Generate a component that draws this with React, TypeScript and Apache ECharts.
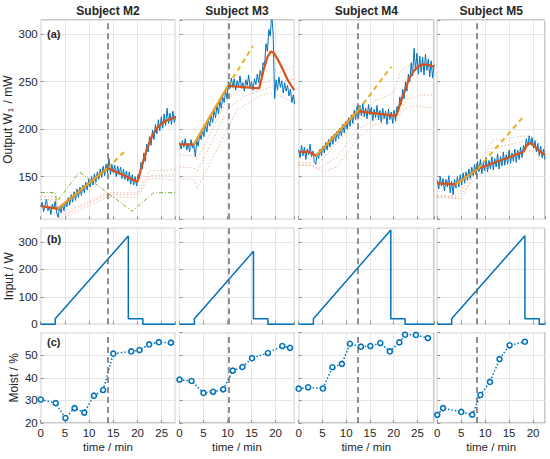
import React, { useEffect, useRef } from "react";
import * as echarts from "echarts";

// ---------- data ----------
const subjects = ["Subject M2", "Subject M3", "Subject M4", "Subject M5"];
const timeMax = [27.8, 23.9, 28.5, 22.5];
const markerTimes = [13.8, 10.2, 12.4, 8.2];
const panelTags = ["(a)", "(b)", "(c)"];

// measured output W1 (mW), sampled every 0.3 min
const sampleStep = 0.3;
const outputM2 = [118,123,113,120,126,114,119,110,121,116,124,112,
  107,118,112,
  121,114,124,118,128,120,131,123,134,125,137,128,139,130,141,133,144,136,147,139,150,141,153,144,155,147,158,149,161,151,163,154,
  169,152,163,154,162,150,161,152,160,148,158,147,156,145,155,142,152,141,150,140,
  152,148,165,158,175,166,184,176,192,183,199,189,205,195,210,198,213,201,216,204,222,206,217,205,219,207,214];
const outputM3 = [186,179,188,181,190,178,185,176,189,180,183,171,
  188,182,195,189,199,192,205,197,210,203,214,207,220,212,225,216,230,222,234,228,240,232,
  250,243,254,244,253,241,251,245,256,243,249,240,252,246,257,244,250,241,253,247,258,249,
  262,254,270,266,290,282,305,298,322,300,
  232,252,241,255,244,251,238,249,240,246,235,242,228,236,226];
const outputM4 = [178,170,183,172,181,168,179,173,184,171,177,166,163,
  175,169,179,172,182,175,186,178,189,181,192,184,195,187,198,190,201,193,205,196,208,200,212,203,215,206,220,210,224,
  212,225,214,227,213,222,211,226,215,223,209,221,212,225,210,220,207,222,211,219,205,221,210,218,206,220,209,
  224,218,234,226,242,232,250,240,258,250,270,256,285,262,280,258,277,260,276,257,279,262,274,255,272,254,268];
const outputM5 = [146,137,150,140,148,135,147,139,151,133,145,131,147,
  138,150,139,152,141,154,143,155,146,158,148,160,151,163,152,166,
  155,168,153,165,156,170,155,167,158,171,157,169,160,174,158,171,161,176,162,173,163,178,164,175,166,179,165,178,168,181,170,183,
  178,190,182,193,184,191,180,188,176,185,172,182,170,179,168];
const outputs = [outputM2, outputM3, outputM4, outputM5];

// model fit (orange)
const fitT = [
  [0, 3.5, 13.8, 20, 21, 22, 23, 24, 25, 26, 27, 27.8],
  [0, 3, 10.1, 16.6, 17.5, 18.3, 19, 19.7, 20.5, 21.5, 22.5, 23.9],
  [0, 2.2, 3.65, 12.4, 20.5, 21.5, 22.5, 23.3, 24.2, 25.2, 26.2, 27.4, 28.5],
  [0, 3.8, 8.4, 18, 18.7, 19.5, 20.3, 21.3, 22.5],
];
const fitV = [
  [119, 116, 159, 144.5, 163, 180, 193, 201, 206, 209, 211, 212.5],
  [184, 184, 245.5, 243, 262, 276, 281.7, 280, 273, 263, 252, 241],
  [176, 176, 172, 219, 214, 228, 243, 253.6, 261, 266, 268.4, 267.5, 265.8],
  [142.8, 141.7, 157.9, 176.2, 183, 185.7, 182, 177, 172.7],
];

// linear trend (yellow): fitted part and extrapolated part
const trendT = [[3.5, 13.8], [3, 10.1], [3.65, 12.4], [3.8, 8.4]];
const trendV = [[116, 159], [184, 245.5], [172, 219], [141.7, 157.9]];
const extrapT = [[13.8, 17.8], [10.1, 15.3], [12.4, 19.5], [8.4, 18.3]];
const extrapV = [[159, 179], [245.5, 287.6], [219, 265.8], [157.9, 214.9]];

// dotted bounds (light red), three per subject
const boundT = [
  [[0,3,3.6,5,9,13.8,20,22.5,27.8],[0,3,3.6,5,9,13.8,20,22.5,27.8],[3.6,5,9,13.8,20,22.5,25,27.8]],
  [[0,3,3.7,10.1,14,18.4,21,23.9],[0,3,3.7,10.1,14,18.4,21,23.9],[0,3,3.7,10.1,12,16,18.4,21,23.9]],
  [[0,3,4,12.4,16,20,21.5,24,28.5],[0,3,4,8,12.4,16,20.5,23,26,28.5],[0,3,5,8,12.4,16,20.5,22,24,28.5]],
  [[0,3.5,5,8.4,11.5,18,20,22.5],[0,4,8.4,11.5,18,22.5],[0,4,8.4,11.5,18,20,22.5]],
];
const boundV = [
  [[129,129,115,113,122,133,133,156,157],[126,126,112,110,120,131,131,151,152],[108,107,117,128.5,128,148,148,146]],
  [[173,172,168,233,245,250,260,266],[160,159,155,222,236,243,250,253],[148,147,137,202,220,233,238,235,228]],
  [[165,165,163,210,230,238,262,268,266],[163,162,158,170,200,210,212,232,236,236],[162,161,155,160,190,205,208,220,225,222]],
  [[129,128,126,160,188,193,192,180],[130,130,158,180,187,176],[128,127,150,170,180,176,168]],
];

// reference curve (green, M2 only)
const refT = [0, 3, 3.3, 8, 18.9, 23.3, 27.8];
const refV = [133.3, 133.3, 123, 155, 113.5, 133, 133];

// input power (W)
const inputT = [
  [0, 3, 3, 18.1, 18.1, 21.1, 21.1, 27.8],
  [0, 3.1, 3.1, 15.4, 15.4, 18.4, 18.4, 23.9],
  [0, 3.1, 3.1, 19.4, 19.4, 22.4, 22.4, 28.5],
  [0, 3, 3, 18.3, 18.3, 21.3, 21.3, 22.5],
];
const inputV = [
  [0, 0, 20, 322, 20, 20, 0, 0],
  [0, 0, 20, 266, 20, 20, 0, 0],
  [0, 0, 20, 344, 20, 20, 0, 0],
  [0, 0, 20, 323, 20, 20, 0, 0],
];

// moisture (%)
const moistT = [
  [0, 3.1, 5.1, 7.0, 9.0, 11.0, 12.9, 15.0, 18.7, 20.4, 22.4, 24.4, 26.9],
  [0, 2.5, 5.0, 7.0, 9.1, 11.1, 13.1, 15.1, 18.4, 21.4, 23.0],
  [0, 2.0, 5.1, 7.1, 9.1, 10.8, 13.1, 15.1, 17.2, 19.2, 21.2, 22.4, 24.7, 27.2],
  [0, 1.2, 5.0, 7.3, 9.0, 11.0, 13.0, 15.1, 18.3],
];
const moistV = [
  [30.4, 28.8, 22.2, 26.6, 24.6, 32.1, 34.6, 50.7, 51.7, 52.3, 54.8, 55.8, 55.6],
  [39.2, 38.6, 33.3, 33.8, 34.9, 43.2, 44.8, 48.7, 51.0, 54.1, 53.3],
  [35.2, 35.8, 35.3, 44.7, 46.2, 55.1, 53.8, 54.1, 55.4, 51.7, 55.7, 59.1, 59.0, 57.6],
  [23.6, 26.6, 24.9, 23.7, 32.4, 38.2, 48.3, 54.4, 56.0],
];

// ---------- layout / style ----------
const FONT = "'Liberation Sans', Arial, Helvetica, sans-serif";
const TXT = "#262626";
const BORDER = "#8f8f8f";
const GRIDC = "#e6e6e6";
const BLUE = "#0072BD";
const ORANGE = "#D95319";
const YELLOW = "#EDB120";
const GREEN = "#77AC30";
const colLeft = [40.7, 179.5, 298.7, 437.3];
const colRight = [175.3, 294.3, 434, 545];
const rowTop = [20, 228.3, 332.7];
const rowBottom = [219.3, 324.3, 423];

const pairs = (t: number[], v: number[]) => t.map((x, i) => [x, v[i]]);

function buildOption() {
  const grid: any[] = [];
  const xAxis: any[] = [];
  const yAxis: any[] = [];
  const series: any[] = [];
  const graphic: any[] = [];

  const yCfg = [
    { min: 105, max: 315, minInterval: 50, maxInterval: 50, name: "Output W{s|1} / mW" },
    { min: 0, max: 350, interval: 100, name: "Input / W" },
    { min: 20, max: 60, interval: 10, name: "Moist / %" },
  ];

  for (let r = 0; r < 3; r++) {
    for (let c = 0; c < 4; c++) {
      const idx = r * 4 + c;
      grid.push({
        left: colLeft[c], top: rowTop[r],
        width: colRight[c] - colLeft[c], height: rowBottom[r] - rowTop[r],
        show: true, borderColor: BORDER, borderWidth: 1, backgroundColor: "transparent",
      });
      xAxis.push({
        gridIndex: idx, type: "value", min: 0, max: timeMax[c], interval: 5,
        axisLine: { show: false },
        axisTick: { show: true, inside: true, length: 3, lineStyle: { color: BORDER } },
        axisLabel: { show: r === 2, margin: 4, fontSize: 11.5, color: TXT, fontFamily: FONT, showMaxLabel: false },
        splitLine: { show: true, lineStyle: { color: GRIDC, width: 1 } },
        name: r === 2 ? "time / min" : "",
        nameLocation: "middle", nameGap: 18,
        nameTextStyle: { fontSize: 11.5, color: TXT, fontFamily: FONT },
      });
      const yc: any = yCfg[r];
      yAxis.push({
        gridIndex: idx, type: "value", min: yc.min, max: yc.max,
        interval: yc.interval, minInterval: yc.minInterval, maxInterval: yc.maxInterval,
        axisLine: { show: false },
        axisTick: { show: true, inside: true, length: 3, lineStyle: { color: BORDER } },
        axisLabel: { show: c === 0, margin: 3, fontSize: 11.5, color: TXT, fontFamily: FONT, showMinLabel: r !== 0, showMaxLabel: false },
        splitLine: { show: true, lineStyle: { color: GRIDC, width: 1 } },
        name: c === 0 ? yc.name : "",
        nameLocation: "middle", nameGap: 21,
        nameTextStyle: {
          fontSize: 12, color: TXT, fontFamily: FONT,
          rich: { s: { fontSize: 8, color: TXT, fontFamily: FONT, verticalAlign: "bottom", padding: [6, 1, 0, 1] } },
        },
      });
    }
  }

  const markLine = (c: number) => ({
    silent: true, symbol: ["none", "none"], label: { show: false },
    lineStyle: { color: "#6b6b6b", width: 1.5, type: [6, 4] },
    data: [{ xAxis: markerTimes[c] }],
  });
  const base = { type: "line", showSymbol: false, symbol: "none", silent: true, animation: false };

  for (let c = 0; c < 4; c++) {
    // top row
    for (let k = 0; k < boundT[c].length; k++) {
      series.push({ ...base, xAxisIndex: c, yAxisIndex: c, data: pairs(boundT[c][k], boundV[c][k]),
        lineStyle: { color: ORANGE, opacity: 0.5, width: 0.8, type: [1.5, 2] } });
    }
    if (c === 0) {
      series.push({ ...base, xAxisIndex: c, yAxisIndex: c, data: pairs(refT, refV),
        lineStyle: { color: GREEN, width: 1, type: [4, 2, 1, 2] } });
    }
    series.push({ ...base, xAxisIndex: c, yAxisIndex: c,
      data: outputs[c].map((v, i) => [Math.round(i * sampleStep * 10) / 10, v]),
      lineStyle: { color: BLUE, width: 1 } });
    series.push({ ...base, xAxisIndex: c, yAxisIndex: c, data: pairs(fitT[c], fitV[c]),
      lineStyle: { color: ORANGE, width: 2.2 } });
    series.push({ ...base, xAxisIndex: c, yAxisIndex: c, data: pairs(trendT[c], trendV[c]),
      lineStyle: { color: YELLOW, width: 1.6 } });
    series.push({ ...base, xAxisIndex: c, yAxisIndex: c, data: pairs(extrapT[c], extrapV[c]),
      lineStyle: { color: YELLOW, width: 2, type: [5, 4] }, markLine: markLine(c) });
    // middle row
    series.push({ ...base, xAxisIndex: 4 + c, yAxisIndex: 4 + c, data: pairs(inputT[c], inputV[c]),
      lineStyle: { color: BLUE, width: 1.5 }, markLine: markLine(c) });
    // bottom row
    series.push({ ...base, xAxisIndex: 8 + c, yAxisIndex: 8 + c, data: pairs(moistT[c], moistV[c]),
      showSymbol: true, symbol: "circle", symbolSize: 5,
      itemStyle: { color: "#ffffff", borderColor: BLUE, borderWidth: 1.6 },
      lineStyle: { color: BLUE, width: 1.5, type: [1.5, 2] }, markLine: markLine(c) });

    graphic.push({
      type: "text", x: (colLeft[c] + colRight[c]) / 2, y: 11,
      style: { text: subjects[c], font: `bold 12px ${FONT}`, fill: TXT, align: "center", verticalAlign: "middle" },
    });
  }
  const tagY = [34, 239, 342];
  for (let r = 0; r < 3; r++) {
    graphic.push({
      type: "text", x: 47, y: tagY[r], z: 100,
      style: { text: panelTags[r], font: `bold 11px ${FONT}`, fill: TXT, align: "left", verticalAlign: "middle" },
    });
  }

  return { animation: false, backgroundColor: "#ffffff", grid, xAxis, yAxis, series, graphic };
}

export default function App() {
  const ref = useRef<HTMLDivElement>(null);
  useEffect(() => {
    if (!ref.current) return;
    const chart = echarts.init(ref.current, undefined, { renderer: "svg" });
    chart.setOption(buildOption() as any);
    return () => chart.dispose();
  }, []);
  return (
    <div
      ref={ref}
      style={{ position: "absolute", left: 0, top: 0, width: 550, height: 459, background: "#fff" }}
    />
  );
}
